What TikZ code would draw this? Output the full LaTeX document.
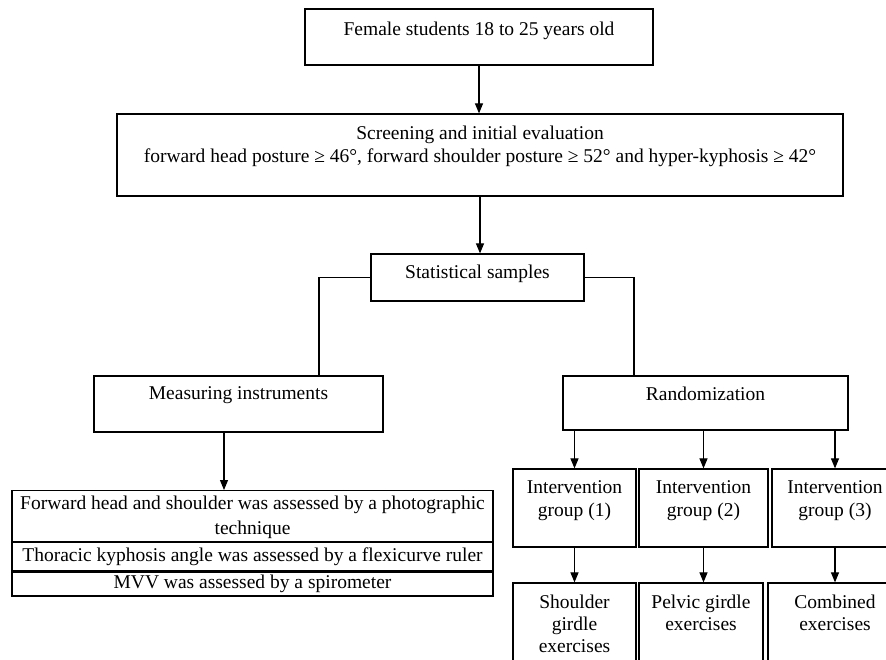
\documentclass[tikz,border=0pt]{standalone}
\usepackage{fontspec}
\setmainfont{Liberation Serif}
\usetikzlibrary{arrows.meta}
\begin{document}
\begin{tikzpicture}[x=1pt,y=-1pt,
        box/.style={draw,line width=1.2pt,inner sep=0pt,align=center,font=\fontsize{19.5}{23.5}\selectfont},
        arr/.style={-{Triangle[length=10pt,width=8pt]},line width=1.1pt}]
        \useasboundingbox (0,0) rectangle (886,659);
        \clip (0,0) rectangle (886,659);
        \node[box,minimum width=348pt,text height=26pt,text depth=30pt] (fem) at (479,37) {Female students 18 to 25 years old};
        \node[box,minimum width=726pt,text height=48.5pt,text depth=33.5pt] (scr) at (480,155) {Screening and initial evaluation\\forward head posture ≥ 46°, forward shoulder posture ≥ 52° and hyper-kyphosis ≥ 42°};
        \node[box,minimum width=213pt,text height=24pt,text depth=23pt] (stat) at (477.5,277.5) {Statistical samples};
        \node[box,minimum width=289pt,text height=23pt,text depth=33pt] (meas) at (238.5,404) {Measuring instruments};
        \node[box,minimum width=285pt,text height=24pt,text depth=30pt] (rand) at (705.5,403) {Randomization};
        % table of instruments
        \node[box,anchor=north,minimum width=481pt,text height=44pt,text depth=7pt,font=\fontsize{19.5}{25}\selectfont] (tabA) at (252.5,490) {Forward head and shoulder was assessed by a photographic\\technique};
        \node[box,anchor=north,minimum width=481pt,minimum height=28pt] (tabB) at (tabA.south) {Thoracic kyphosis angle was assessed by a flexicurve ruler};
        \node[box,anchor=north,minimum width=481pt,minimum height=24pt] (tabC) at (tabB.south) {MVV was assessed by a spirometer};
        % groups
        \node[box,minimum width=123pt,text height=47.5pt,text depth=30.5pt] (int1) at (574.5,508) {Intervention\\group (1)};
        \node[box,minimum width=129pt,text height=47.5pt,text depth=30.5pt] (int2) at (703.5,508) {Intervention\\group (2)};
        \node[box,minimum width=126pt,text height=47.5pt,text depth=30.5pt] (int3) at (835,508) {Intervention\\group (3)};
        \node[box,minimum width=123pt,text height=69pt,text depth=31pt,font=\fontsize{19.5}{22}\selectfont] (ex1) at (574.5,633) {Shoulder\\girdle\\exercises};
        \node[box,minimum width=124pt,text height=47pt,text depth=53pt,font=\fontsize{19.5}{22}\selectfont] (ex2) at (701,633) {Pelvic girdle\\exercises};
        \node[box,minimum width=134pt,text height=47pt,text depth=53pt,font=\fontsize{19.5}{22}\selectfont] (ex3) at (835,633) {Combined\\exercises};
        % connectors
        \draw[arr] (fem.south) -- (fem.south |- scr.north);
        \draw[arr] (scr.south) -- (scr.south |- stat.north);
        \draw[line width=1.1pt] (stat.west) -| ([xshift=80.5pt]meas.north);
        \draw[line width=1.1pt] (stat.east) -| ([xshift=-71.5pt]rand.north);
        \draw[arr] ([xshift=-14.5pt]meas.south) -- ([xshift=-14.5pt]meas.south |- tabA.north);
        \foreach \i in {1,2,3} {
            \draw[arr] (int\i.north |- rand.south) -- (int\i.north);
            \draw[arr] (int\i.south) -- (int\i.south |- ex\i.north);
        }
    \end{tikzpicture}
\end{document}
